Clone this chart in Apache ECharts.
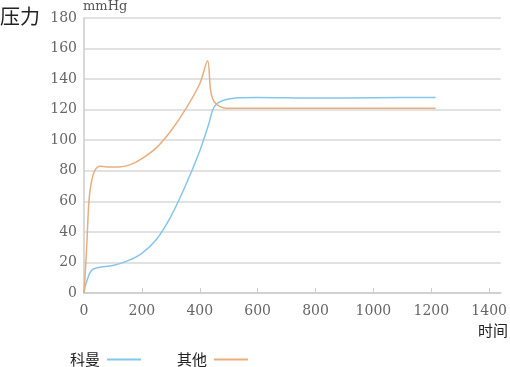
<!DOCTYPE html>
<html><head><meta charset="utf-8">
<script src="https://cdn.jsdelivr.net/npm/echarts@6/dist/echarts.min.js"></script>
<style>html,body{margin:0;padding:0;background:#fff}#c{width:510px;height:367px}</style>
</head><body><div id="c"></div>
<script>
var xTicks = [0, 200, 400, 600, 800, 1000, 1200, 1400];
var yTicks = [0, 20, 40, 60, 80, 100, 120, 140, 160, 180];
var seriesNames = ['科曼', '其他'];
var kemanX = [0, 5, 10, 20, 30, 45, 60, 100, 150, 200, 250, 300, 350, 400, 430, 445, 460, 480, 500, 530, 600, 800, 1000, 1215];
var kemanY = [0, 5, 8, 13, 15.5, 16.5, 17, 18, 21, 26, 35, 50, 70, 93, 110, 120, 124, 126, 127, 127.8, 128, 127.6, 127.8, 128];
var otherX = [0, 8, 17, 25, 37, 55, 80, 120, 160, 200, 250, 300, 350, 400, 427, 437, 445, 455, 470, 490, 510, 600, 1000, 1215];
var otherY = [0, 25, 60, 72, 80, 83, 82.5, 82.5, 84, 88, 95, 106, 120, 137, 152, 133, 127, 124, 122, 121, 121, 121, 121, 121];

function pairs(xs, ys) { return xs.map(function (x, i) { return [x, ys[i]]; }); }

var serif = 'DejaVu Serif';
var cjk = 'Noto Sans CJK SC';
var chart = echarts.init(document.getElementById('c'));
chart.setOption({
  animation: false,
  grid: { left: 84, right: 7, top: 18, bottom: 74, containLabel: false },
  graphic: [
    { type: 'text', left: 0, top: 6, style: { text: '压力', fontFamily: cjk, fontSize: 20, fill: '#222' } },
    { type: 'text', left: 83, top: 0, style: { text: 'mmHg', fontFamily: serif, fontSize: 13, fill: '#555' } },
    { type: 'text', left: 478, top: 323, style: { text: '时间', fontFamily: cjk, fontSize: 15, fill: '#222' } }
  ],
  legend: {
    left: 65, top: 347, align: 'right', itemWidth: 34, itemHeight: 2, itemGap: 36,
    icon: 'rect',
    textStyle: { fontFamily: cjk, fontSize: 15, color: '#222', padding: [0, 2, 0, 0] },
    data: seriesNames
  },
  xAxis: {
    type: 'value', min: 0, max: 1440, interval: 200,
    axisLine: { show: true, lineStyle: { color: '#ccc', width: 1.5 } },
    axisTick: { show: true, inside: true, length: 5, lineStyle: { color: '#ccc' }, customValues: xTicks },
    axisLabel: { customValues: xTicks, formatter: function (v) { return String(v); }, fontFamily: serif, fontSize: 14, color: '#666', margin: 11 },
    splitLine: { show: false }
  },
  yAxis: {
    type: 'value', min: 0, max: 180, interval: 20,
    axisLine: { show: true, lineStyle: { color: '#ccc', width: 1.5 } },
    axisTick: { show: false },
    axisLabel: { formatter: function (v) { return String(v); }, fontFamily: serif, fontSize: 14, color: '#666', margin: 7 },
    splitLine: { show: true, lineStyle: { color: '#d9d9d9', width: 1.5 } }
  },
  series: [
    { name: seriesNames[0], type: 'line', smooth: 0.3, showSymbol: false, symbol: 'none',
      lineStyle: { color: '#86c5ec', width: 1.5 }, itemStyle: { color: '#86c5ec' },
      data: pairs(kemanX, kemanY) },
    { name: seriesNames[1], type: 'line', smooth: 0.3, showSymbol: false, symbol: 'none',
      lineStyle: { color: '#e9ae7c', width: 1.5 }, itemStyle: { color: '#e9ae7c' },
      data: pairs(otherX, otherY) }
  ]
});
</script></body></html>
